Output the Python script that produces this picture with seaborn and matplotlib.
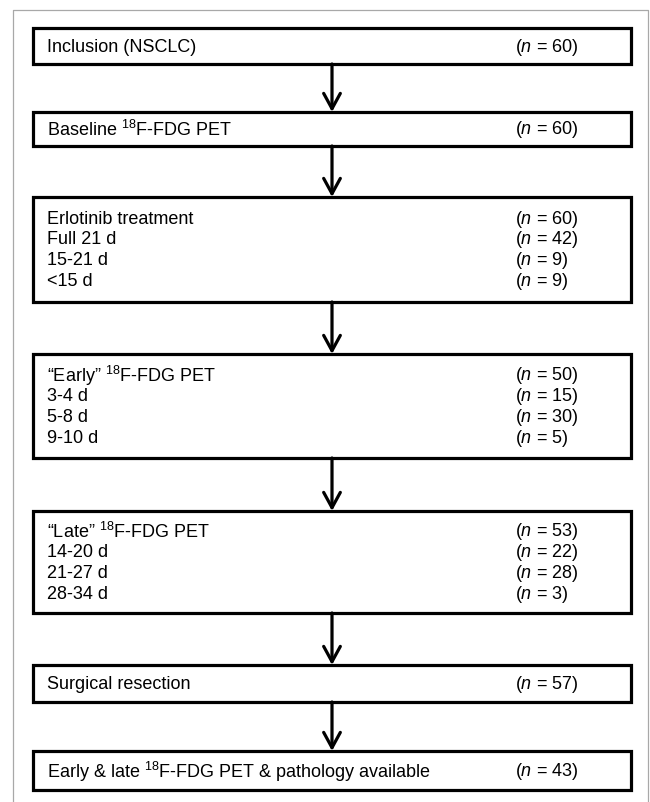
import matplotlib
matplotlib.use("Agg")
import matplotlib.pyplot as plt
import seaborn as sns
from matplotlib.patches import Rectangle

# flowchart content
stage_titles = ["Inclusion (NSCLC)",
                "Baseline $^{18}$F-FDG PET",
                "Erlotinib treatment",
                "\u201cEarly\u201d $^{18}$F-FDG PET",
                "\u201cLate\u201d $^{18}$F-FDG PET",
                "Surgical resection",
                "Early & late $^{18}$F-FDG PET & pathology available"]
stage_n = [60, 60, 60, 50, 53, 57, 43]
sub_labels = [[], [], ["Full 21 d", "15-21 d", "<15 d"],
              ["3-4 d", "5-8 d", "9-10 d"],
              ["14-20 d", "21-27 d", "28-34 d"], [], []]
sub_n = [[], [], [42, 9, 9], [15, 30, 5], [22, 28, 3], [], []]

# layout (pixels, y downwards)
box_top = [29, 113, 198, 355, 512, 666, 752]
box_bottom = [65, 147, 303, 459, 614, 703, 791]
box_left, box_right = 33, 631
text_x, n_x = 47, 515
row_gap = 21
fs = 13

sns.set_theme(style="white")
plt.rcParams["font.family"] = ["Liberation Sans", "DejaVu Sans"]
plt.rcParams["text.color"] = "black"
plt.rcParams["mathtext.fontset"] = "custom"
plt.rcParams["mathtext.rm"] = "Liberation Sans"
plt.rcParams["mathtext.it"] = "Liberation Sans:italic"

fig = plt.figure(figsize=(6.5, 8.03), dpi=100)
ax = fig.add_axes([0, 0, 1, 1])
ax.set_xlim(0, 650)
ax.set_ylim(803, 0)
ax.axis("off")

# outer frame (no bottom edge)
ax.plot([13, 13, 648, 648], [803, 11, 11, 803], color="#a8a8a8", lw=0.9)

cx = (box_left + box_right) / 2
for i, title in enumerate(stage_titles):
    top, bot = box_top[i], box_bottom[i]
    ax.add_patch(Rectangle((box_left, top), box_right - box_left, bot - top,
                           fill=False, ec="black", lw=2.3))
    rows = [(title, stage_n[i])] + list(zip(sub_labels[i], sub_n[i]))
    mid = (top + bot) / 2
    y0 = mid - row_gap * (len(rows) - 1) / 2
    for k, (lab, n) in enumerate(rows):
        y = y0 + k * row_gap
        ax.text(text_x, y, lab, fontsize=fs, va="center", ha="left")
        ax.text(n_x, y, "($n$ = %d)" % n, fontsize=fs, va="center", ha="left")
    if i > 0:
        ax.annotate("", xy=(cx, top), xytext=(cx, box_bottom[i - 1]),
                    arrowprops=dict(arrowstyle="->, head_length=0.55, head_width=0.3",
                                    lw=2.3, color="black", shrinkA=0, shrinkB=0,
                                    mutation_scale=20))

fig.savefig("out.png", dpi=100, facecolor="white")
